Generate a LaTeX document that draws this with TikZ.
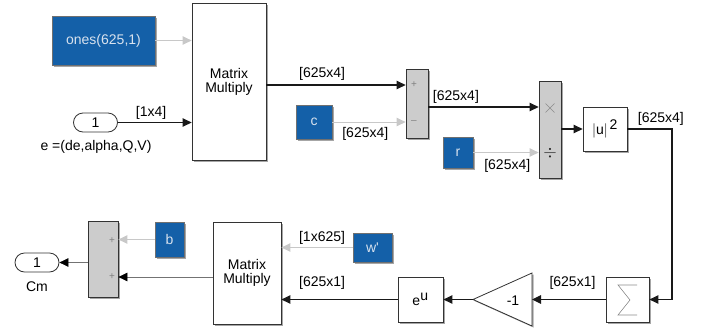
\documentclass[tikz,border=0pt]{standalone}
\usepackage{fontspec}
\setmainfont{Liberation Sans}
\usetikzlibrary{arrows.meta,calc}
\definecolor{sblue}{HTML}{1460A8}
\definecolor{stext}{HTML}{D8E2EE}
\definecolor{sgray}{HTML}{CCCCCC}
\definecolor{cline}{HTML}{C8C8C8}
\definecolor{bord}{HTML}{333333}
\begin{document}
\begin{tikzpicture}[x=1pt,y=-1pt,
  font=\fontsize{14}{16}\selectfont,
  shd/.style={preaction={fill=black!35,transform canvas={shift={(1.5pt,-1.5pt)}}}},
  blk/.style={shd,draw=bord,fill=white,line width=0.8pt,inner sep=0pt,align=center},
  cblk/.style={shd,draw=bord!70,fill=sblue,text=stext,line width=0.6pt,inner sep=0pt},
  gblk/.style={shd,draw=bord,fill=sgray,line width=0.8pt,inner sep=0pt},
  port/.style={draw=bord,fill=white,rounded corners=9.5pt,line width=0.8pt,inner sep=0pt,minimum width=44,minimum height=19},
  sig/.style={draw=black!90,line width=1.1pt,-{Triangle[length=9pt,width=8.5pt]}},
  tsig/.style={draw=black!55,line width=0.7pt,-{Triangle[length=9pt,width=8.5pt,color=black,fill=black]}},
  csig/.style={draw=cline,line width=1pt,-{Triangle[length=9pt,width=8.5pt,color=cline,fill=cline]}},
  lab/.style={inner sep=0pt},
  sgn/.style={text=black!50,font=\fontsize{10}{12}\selectfont,inner sep=0pt}
]
\useasboundingbox (0,0) rectangle (709,327);

% blocks
\node[cblk,minimum width=103,minimum height=49] (ones) at (103.5,40.5) {ones(625,1)};
\node[blk,minimum width=74,minimum height=157] (mm1) at (229,81.5) {Matrix\\[-2pt]Multiply};
\node[port] (in1) at (95.5,122.5) {1};
\node[lab] (inlab) at (96,147) {e =(de,alpha,Q,V)};
\node[cblk,minimum width=36,minimum height=34] (c) at (314,122) {c};
\node[gblk,minimum width=22,minimum height=69] (sum1) at (417,103.5) {};
\node[sgn] (s1p) at (414,85) {+};
\node[sgn] (s1m) at (414,122) {--};
\node[gblk,minimum width=22,minimum height=97] (prod) at (550,129.5) {};
\draw[black!45,line width=0.6pt] (545.5,103.5)--(554.5,112.5) (545.5,112.5)--(554.5,103.5);
\node[sgn,text=black!85,font=\fontsize{17}{18}\selectfont] (pd) at (550,153) {$\div$};
\node[cblk,minimum width=30,minimum height=31] (r) at (458,152.5) {r};
\node[blk,minimum width=44,minimum height=44] (usq) at (605,129) {$|$u$|^{\,\mbox{\fontsize{14}{16}\selectfont 2}}$};
\node[blk,minimum width=43,minimum height=45] (sig) at (627.5,299.5) {};
\draw[black!45,line width=0.6pt] (637,285)--(618,285)--(630,300)--(618,315)--(637,315);
% gain triangle
\draw[shd,draw=bord,fill=white,line width=0.8pt] (532,273)--(532,326)--(473,299.5)--cycle;
\coordinate (gR) at (532,299.5);
\coordinate (gL) at (473,299.5);
\node[lab] (gtxt) at (513,301) {-1};
\node[blk,minimum width=45,minimum height=45] (eu) at (420.5,299.5) {e$^{\mbox{\fontsize{14}{16}\selectfont u}}$};
\node[blk,minimum width=68,minimum height=102] (mm2) at (247,273) {Matrix\\[-2pt]Multiply};
\node[cblk,minimum width=39,minimum height=29] (w) at (372.5,247.5) {w\textquotesingle};
\node[cblk,minimum width=29,minimum height=35] (b) at (169.5,239.5) {b};
\node[gblk,minimum width=30,minimum height=76] (sum2) at (103,259) {};
\node[sgn] (s2a) at (112,241) {+};
\node[sgn] (s2b) at (112,277) {+};
\node[port] (out1) at (37,262.5) {1};
\node[lab] (outlab) at (37,287) {Cm};

% port coordinates
\coordinate (mm1a) at (mm1.west |- ones.east);
\coordinate (mm1b) at (mm1.west |- in1.east);
\coordinate (mm1o) at (mm1.east |- s1p);
\coordinate (s1a) at (sum1.west |- s1p);
\coordinate (s1b) at (sum1.west |- c.east);
\coordinate (s1o) at (sum1.east |- 0,107);
\coordinate (pa) at (prod.west |- s1o);
\coordinate (pb) at (prod.west |- r.east);
\coordinate (po) at (prod.east |- usq.west);
\coordinate (bend) at (672,129);
\coordinate (bend2) at (bend |- sig.east);
\coordinate (mm2a) at (mm2.east |- w.west);
\coordinate (mm2b) at (mm2.east |- eu.west);
\coordinate (mm2o) at (mm2.west |- s2b);
\coordinate (s2ai) at (sum2.east |- b.west);
\coordinate (s2bi) at (sum2.east |- s2b);
\coordinate (s2o) at (sum2.west |- out1.east);

% connectors
\draw[csig] (ones.east) -- (mm1a);
\draw[sig] (in1.east) -- node[lab,above=3pt,pos=0.45] {[1x4]} (mm1b);
\draw[sig] (mm1o) -- node[lab,above=4pt,pos=0.4] {[625x4]} (s1a);
\draw[csig] (c.east) -- node[lab,below=5pt,pos=0.45] {[625x4]} (s1b);
\draw[sig] (s1o) -- node[lab,above=3pt,pos=0.25] {[625x4]} (pa);
\draw[csig] (r.east) -- node[lab,below=6pt,pos=0.52] {[625x4]} (pb);
\draw[sig] (po) -- (usq.west);
\draw[sig] (usq.east) -- node[lab,above=3pt,pos=0.75] {[625x4]} (bend) -- (bend2) -- (sig.east);
\draw[sig] (sig.west) -- node[lab,above=10pt,pos=0.45] {[625x1]} (gR);
\draw[sig] (gL) -- (eu.east);
\draw[sig] (eu.west) -- node[lab,above=10pt,pos=0.65] {[625x1]} (mm2b);
\draw[csig] (w.west) -- node[lab,above=3pt,pos=0.43,text=black] {[1x625]} (mm2a);
\draw[csig] (b.west) -- (s2ai);
\draw[tsig] (mm2o) -- (s2bi);
\draw[tsig] (s2o) -- (out1.east);
\end{tikzpicture}
\end{document}
